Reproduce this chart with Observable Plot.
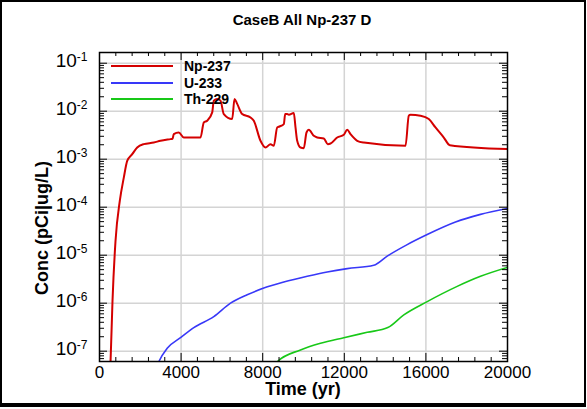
<!DOCTYPE html>
<html><head><meta charset="utf-8">
<script src="https://cdn.jsdelivr.net/npm/d3@7"></script>
<script src="https://cdn.jsdelivr.net/npm/@observablehq/plot@0.6"></script>
<style>
body{margin:0;background:#fff;font-family:"Liberation Sans",Arial,sans-serif;}
#wrap{position:relative;width:587px;height:409px;overflow:hidden;background:#fff;}
#border{position:absolute;left:0;top:0;width:586px;height:407px;box-sizing:border-box;border:2px solid #000;border-bottom-width:4px;pointer-events:none;}
.title{position:absolute;top:11px;left:0;width:604px;text-align:center;font-weight:bold;font-size:15px;line-height:18px;}
.xlab{position:absolute;top:380px;left:0;width:606px;text-align:center;font-weight:bold;font-size:18px;line-height:18px;}
.ylab{position:absolute;left:42px;top:228px;transform:translate(-50%,-50%) rotate(-90deg);font-weight:bold;font-size:18px;line-height:18px;white-space:nowrap;}
#legend{position:absolute;left:111px;top:58px;}
.row{display:flex;align-items:center;height:16.5px;}
.sw{width:62px;height:2px;}
.lt{margin-left:11px;font-weight:bold;font-size:14px;line-height:14px;}
svg{position:absolute;left:0;top:0;}
</style>
</head><body>
<div id="wrap"></div>
<script>
// ---- data ----
const seriesNames = ["Np-237", "U-233", "Th-229"];
const seriesColors = ["#d40000", "#3838f8", "#18c818"];

const npTime = [500,540,637,784,995,1191,1358,1603,1848,2172,2662,2990,3480,3578,3642,3887,4132,4951,5113,5279,5525,5603,5770,5931,6093,6505,6618,6750,6995,7402,7564,7892,8137,8382,8544,8711,8824,9035,9103,9200,9282,9524,9608,9691,9853,10015,10147,10260,10505,10672,10995,11191,11324,11652,11976,12142,12304,12632,12956,15000,15162,15245,15735,16142,16471,16878,17172,20000];
const npConc = [2.5e-8,5.8e-8,1.1e-6,1.95e-5,1.35e-4,4.12e-4,9.2e-4,1.27e-3,1.75e-3,2.06e-3,2.22e-3,2.42e-3,2.62e-3,2.66e-3,3.33e-3,3.6e-3,2.83e-3,2.83e-3,5.83e-3,6.32e-3,9.44e-3,1.66e-2,1.80e-2,1.66e-2,8.73e-3,6.87e-3,1.80e-2,1.42e-2,8.73e-3,7.41e-3,6.32e-3,2.42e-3,1.75e-3,2.06e-3,1.90e-3,4.58e-3,4.8e-3,5.4e-3,8.73e-3,8.73e-3,8.45e-3,9.16e-3,4.58e-3,2.42e-3,1.75e-3,1.70e-3,3.6e-3,4.1e-3,3.07e-3,2.83e-3,2.70e-3,2.06e-3,2.12e-3,2.83e-3,3.22e-3,4.1e-3,3.33e-3,2.42e-3,2.22e-3,1.90e-3,8.05e-3,8.45e-3,8.05e-3,6.87e-3,4.58e-3,2.83e-3,1.96e-3,1.62e-3];

const uTime = [2600,2907,3318,3971,4623,5603,6422,7240,8054,9035,10182,11162,12142,13446,14103,15084,16064,17451,18677,20000];
const uConc = [2.5e-8,6.0e-8,1.15e-7,1.91e-7,3.10e-7,5.27e-7,1.0e-6,1.5e-6,2.06e-6,2.75e-6,3.63e-6,4.47e-6,5.25e-6,6.17e-6,9.55e-6,1.66e-5,2.69e-5,4.9e-5,7.08e-5,9.44e-5];

const thTime = [8400,8711,9853,10833,11976,13123,14133,14918,16064,17534,18677,20000];
const thConc = [2.5e-8,6.0e-8,1.06e-7,1.46e-7,1.91e-7,2.47e-7,3.10e-7,5.71e-7,1.08e-6,2.24e-6,3.63e-6,5.58e-6];

const xTickLabels = [0, 4000, 8000, 12000, 16000, 20000];
const yTickExponents = [-7, -6, -5, -4, -3, -2, -1];

const titleText = "CaseB All Np-237 D";
const xTitle = "Time (yr)";
const yTitle = "Conc (pCi|ug/L)";

// ---- build ----
const W = 587, H = 409;
const mL = 99, mR = 80, mT = 52, mB = 48;
const pw = W - mL - mR, ph = H - mT - mB;

const toRows = (t, c, s) => t.map((d, i) => ({t: d, c: c[i], s}));
const series = [
  toRows(npTime, npConc, seriesNames[0]),
  toRows(uTime, uConc, seriesNames[1]),
  toRows(thTime, thConc, seriesNames[2])
];

const yMajor = yTickExponents.map(e => Math.pow(10, e));
const yDomain = [Math.pow(10, -7.215), Math.pow(10, -0.777)];
const yMinor = [];
for (let e = -8; e <= -1; e++) for (let k = 2; k <= 9; k++) {
  const v = k * Math.pow(10, e);
  if (v >= yDomain[0] && v <= yDomain[1]) yMinor.push(v);
}
const xMinor = d3.range(0, 20001, 800).filter(v => v % 4000 !== 0);

const tickStyle = {stroke: "#000", strokeWidth: 1};
const plot = Plot.plot({
  width: W, height: H,
  marginLeft: mL, marginRight: mR, marginTop: mT, marginBottom: mB,
  style: {fontFamily: "'Liberation Sans', Arial, sans-serif", background: "transparent", color: "#000"},
  x: {domain: [0, 20000]},
  y: {type: "log", domain: yDomain},
  marks: [
    Plot.gridX([4000, 8000, 12000, 16000], {stroke: "#d4d4d4", strokeOpacity: 1, strokeWidth: 1.5}),
    Plot.gridY(yMajor, {stroke: "#d4d4d4", strokeOpacity: 1, strokeWidth: 1.5}),
    ...series.map((rows, i) => Plot.line(rows, {x: "t", y: "c", stroke: seriesColors[i], strokeWidth: i === 0 ? 2 : 1.6, curve: "monotone-x", clip: true})),
    // inward ticks
    Plot.tickX(xTickLabels, {x: d => d, insetTop: ph - 8, ...tickStyle}),
    Plot.tickX(xTickLabels, {x: d => d, insetBottom: ph - 8, ...tickStyle}),
    Plot.tickX(xMinor, {x: d => d, insetTop: ph - 4, ...tickStyle}),
    Plot.tickX(xMinor, {x: d => d, insetBottom: ph - 4, ...tickStyle}),
    Plot.tickY(yMajor, {y: d => d, insetRight: pw - 8, ...tickStyle}),
    Plot.tickY(yMajor, {y: d => d, insetLeft: pw - 8, ...tickStyle}),
    Plot.tickY(yMinor, {y: d => d, insetRight: pw - 5, ...tickStyle}),
    Plot.tickY(yMinor, {y: d => d, insetLeft: pw - 5, ...tickStyle}),
    Plot.axisX(xTickLabels, {tickSize: 0, tickPadding: 4, fontSize: 17, label: null, tickFormat: d => String(d)}),
    Plot.axisY(yMajor, {tickSize: 0, tickPadding: 12, fontSize: 19, label: null, dy: -2, tickFormat: d => String(Math.round(Math.log10(d)))}),
    Plot.frame({stroke: "#000", strokeWidth: 1.5})
  ]
});

// superscript exponents on y tick labels
plot.querySelectorAll('[aria-label="y-axis tick label"] text').forEach(t => {
  const exp = t.textContent;
  while (t.firstChild) t.removeChild(t.firstChild);
  const ns = "http://www.w3.org/2000/svg";
  const base = document.createElementNS(ns, "tspan");
  base.textContent = "10";
  const sup = document.createElementNS(ns, "tspan");
  sup.setAttribute("dy", "-0.5em");
  sup.setAttribute("font-size", "12");
  sup.textContent = exp;
  t.appendChild(base); t.appendChild(sup);
});

const wrap = document.getElementById("wrap");
wrap.appendChild(plot);

const title = document.createElement("div");
title.className = "title"; title.textContent = titleText; wrap.appendChild(title);
const xl = document.createElement("div");
xl.className = "xlab"; xl.textContent = xTitle; wrap.appendChild(xl);
const yl = document.createElement("div");
yl.className = "ylab"; yl.textContent = yTitle; wrap.appendChild(yl);

const lg = document.createElement("div");
lg.id = "legend";
seriesNames.forEach((n, i) => {
  const r = document.createElement("div"); r.className = "row";
  const s = document.createElement("span"); s.className = "sw"; s.style.background = seriesColors[i];
  const l = document.createElement("span"); l.className = "lt"; l.textContent = n;
  r.appendChild(s); r.appendChild(l); lg.appendChild(r);
});
wrap.appendChild(lg);

const b = document.createElement("div"); b.id = "border"; wrap.appendChild(b);
</script>
</body></html>
